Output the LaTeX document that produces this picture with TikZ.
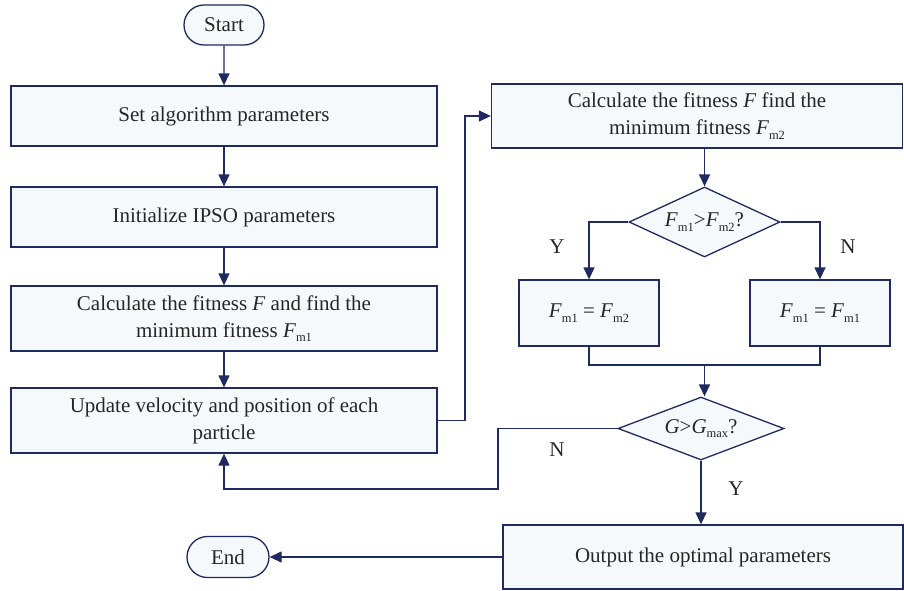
\documentclass[tikz,border=0pt]{standalone}
\usepackage{fontspec}
\setmainfont{Liberation Serif}
\usetikzlibrary{arrows.meta,shapes.geometric,shapes.misc}
\definecolor{navy}{HTML}{1F2A60}
\definecolor{boxfill}{HTML}{F5F9FC}
\newcommand\subs[1]{\raisebox{-0.45ex}{\fontsize{12.5}{12.5}\selectfont #1}}
\newcommand\Fv[1]{\textit{F}\subs{m#1}}
\begin{document}
\begin{tikzpicture}[x=1pt,y=-1pt,
  font=\fontsize{21}{27}\selectfont,
  every node/.style={text=black!85},
  every label/.style={text=black!85,inner sep=0pt},
  procbox/.style={draw=navy,line width=1.3pt,fill=boxfill,rectangle,align=center,inner sep=0pt},
  term/.style={draw=navy,line width=1.3pt,fill=boxfill,rounded rectangle,minimum width=80pt,minimum height=40pt,inner sep=0pt},
  decide/.style={draw=navy,line width=1.3pt,fill=boxfill,diamond,inner sep=0pt,align=center},
  conn/.style={draw=navy,line width=1.3pt},
  arr/.style={conn,-{Triangle[length=12pt,width=11pt]}},
  lbl/.style={font=\fontsize{21}{24}\selectfont}]
\useasboundingbox (0,0) rectangle (904,590);
\node[term] (start) at (224,25) {Start};
\node[procbox,minimum width=426pt,minimum height=60pt] (b1) at (224,116) {Set algorithm parameters};
\node[procbox,minimum width=426pt,minimum height=60pt] (b2) at (224,217) {Initialize IPSO parameters};
\node[procbox,minimum width=426pt,minimum height=65pt] (b3) at (224,318.5) {Calculate the fitness \textit{F} and find the\\minimum fitness \Fv{1}};
\node[procbox,minimum width=426pt,minimum height=65pt] (b4) at (224,420.5) {Update velocity and position of each\\particle};
\node[procbox,minimum width=411pt,minimum height=64pt] (b5) at (697,116) {Calculate the fitness \textit{F} find the\\minimum fitness \Fv{2}};
\node[decide,minimum width=151pt,minimum height=70pt,label={center:\Fv{1}>\Fv{2}?}] (d1) at (704.5,222) {};
\node[procbox,minimum width=140pt,minimum height=66pt] (b6) at (589,313) {\Fv{1} = \Fv{2}};
\node[procbox,minimum width=140pt,minimum height=66pt] (b7) at (820,313) {\Fv{1} = \Fv{1}};
\node[decide,minimum width=166pt,minimum height=63pt,label={center:\textit{G}>\textit{G}\subs{max}?}] (d2) at (701,428.5) {};
\node[procbox,minimum width=400pt,minimum height=64pt] (b8) at (703,557) {Output the optimal parameters};
\node[term,minimum width=82pt,minimum height=41pt] (end) at (228,557) {End};
\coordinate (j1) at (589,365);
\coordinate (j2) at (820,365);
\coordinate (jm) at (704.5,365);
\coordinate (r1) at (465,420.5);
\coordinate (r2) at (465,116);
\coordinate (n1) at (498,428.5);
\coordinate (n2) at (498,489);
\coordinate (n3) at (224,489);
\node[lbl] (ly1) at (557,247) {Y};
\node[lbl] (ln1) at (848,247) {N};
\node[lbl] (ln2) at (557,450) {N};
\node[lbl] (ly2) at (736,489) {Y};
\draw[arr] (start) -- (b1);
\draw[arr] (b1) -- (b2);
\draw[arr] (b2) -- (b3);
\draw[arr] (b3) -- (b4);
\draw[arr] (b4.east) -- (r1) -- (r2) -- (b5.west);
\draw[arr] (b5.south -| d1.north) -- (d1.north);
\draw[arr] (d1.west) -| (b6.north);
\draw[arr] (d1.east) -| (b7.north);
\draw[conn] (b6.south) -- (j1) -- (j2) -- (b7.south);
\draw[arr] (jm) -- (jm |- d2.north);
\draw[arr] (d2.west) -- (n1) -- (n2) -- (n3) -- (b4.south);
\draw[arr] (d2.south) -- (d2.south |- b8.north);
\draw[arr] (b8.west) -- (end.east);
\end{tikzpicture}
\end{document}
